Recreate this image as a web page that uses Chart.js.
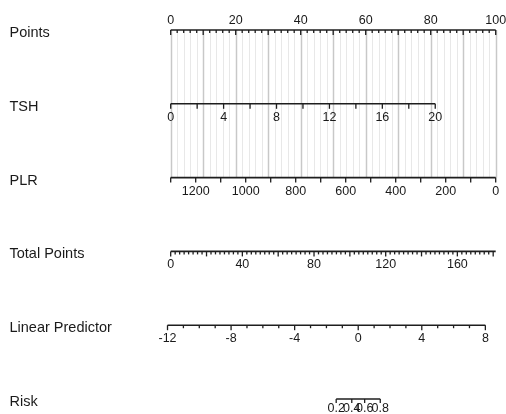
<!DOCTYPE html>
<html>
<head>
<meta charset="utf-8">
<script src="https://cdn.jsdelivr.net/npm/chart.js@4"></script>
<style>
  body { margin: 0; background: #fff; }
  canvas { display: block; }
</style>
</head>
<body>
<canvas id="nomo" width="506" height="414"></canvas>
<script>
// Row names (left column) =================================================
var rowNames = ['Points', 'TSH', 'PLR', 'Total Points', 'Linear Predictor', 'Risk'];

// Tick labels for each scale
var pointsLabels = [0, 20, 40, 60, 80, 100];
var tshLabels = [0, 4, 8, 12, 16, 20];
var plrLabels = [1200, 1000, 800, 600, 400, 200, 0];
var totalLabels = [0, 40, 80, 120, 160];
var lpLabels = [-12, -8, -4, 0, 4, 8];
var riskLabels = [0.2, 0.4, 0.6, 0.8];

// Variable ranges
var pointsRange = [0, 100];
var tshRange = [0, 20];
var plrRange = [0, 1300];
var totalRange = [0, 181.4];
var lpRange = [-12, 8];
var riskRange = [0.2, 0.8];

// Model: points given by TSH at its max, and linear predictor on the points scale
var tshMaxPoints = 81.4;
var lpAtZero = 57.7;     // points-scale position of linear predictor 0
var lpPerUnit = 4.89;    // points-scale width of 1 unit of linear predictor

// Conversions into the common "points" scale ==============================
function tshToPts(v) { return v * tshMaxPoints / tshRange[1]; }
function plrToPts(v) { return (plrRange[1] - v) / plrRange[1] * 100; }
function totalToPts(v) { return v * 100 / totalRange[1]; }
function lpToPts(v) { return lpAtZero + v * lpPerUnit; }
function riskToPts(r) { return lpToPts(Math.log(r / (1 - r))); }

function stepTicks(lo, hi, step) {
  var out = [];
  for (var v = lo; v <= hi + 1e-9; v += step) { out.push(Math.round(v * 1000) / 1000); }
  return out;
}

// Axis descriptions: which row, how to convert, where the ticks go
var axes = [
  { row: 0, conv: function(v){ return v; }, range: pointsRange, ticks: stepTicks(0, 100, 2),
    major: function(v){ return v % 10 === 0; }, labels: pointsLabels, above: true },
  { row: 1, conv: tshToPts, range: tshRange, ticks: stepTicks(0, 20, 2),
    major: function(){ return true; }, labels: tshLabels },
  { row: 2, conv: plrToPts, range: plrRange, ticks: stepTicks(0, 1300, 100),
    major: function(){ return true; }, labels: plrLabels },
  { row: 3, conv: totalToPts, range: totalRange, ticks: stepTicks(0, 180, 2.5),
    major: function(v){ return v % 20 === 0; }, labels: totalLabels },
  { row: 4, conv: lpToPts, range: lpRange, ticks: stepTicks(-12, 8, 1),
    major: function(v){ return v % 4 === 0; }, labels: lpLabels },
  { row: 5, conv: riskToPts, range: riskRange, ticks: riskLabels,
    major: function(){ return true; }, labels: riskLabels, small: true }
];

// Axis lines as line datasets
var datasets = axes.map(function(a) {
  return {
    data: [{ x: a.conv(a.range[0]), y: a.row }, { x: a.conv(a.range[1]), y: a.row }],
    showLine: true,
    borderColor: '#1e1e1e',
    borderWidth: 1.6,
    pointRadius: 0
  };
});

// Plugin: grid, ticks and labels drawn through the chart's scales
var nomogramPlugin = {
  id: 'nomogram',
  beforeDatasetsDraw: function(chart) {
    var c = chart.ctx, xs = chart.scales.x, ys = chart.scales.y;
    var yTop = ys.getPixelForValue(0), yBot = ys.getPixelForValue(2);
    c.save();
    stepTicks(0, 100, 2).forEach(function(v) {
      var px = Math.round(xs.getPixelForValue(v)) + 0.5;
      c.strokeStyle = v % 10 === 0 ? '#c8c8c8' : '#e8e8e8';
      c.lineWidth = v % 10 === 0 ? 1.5 : 1;
      c.beginPath(); c.moveTo(px, yTop); c.lineTo(px, yBot); c.stroke();
    });
    c.restore();
  },
  afterDatasetsDraw: function(chart) {
    var c = chart.ctx, xs = chart.scales.x, ys = chart.scales.y;
    c.save();
    c.fillStyle = '#1a1a1a';
    c.strokeStyle = '#1e1e1e';
    c.lineWidth = 1.3;
    axes.forEach(function(a) {
      var py = ys.getPixelForValue(a.row);
      a.ticks.forEach(function(v) {
        var px = xs.getPixelForValue(a.conv(v));
        var len = a.major(v) ? 5 : 3;
        if (a.small) len = 4;
        c.beginPath(); c.moveTo(px, py); c.lineTo(px, py + len); c.stroke();
      });
      c.font = '12.5px "Liberation Sans", Arial, sans-serif';
      c.textAlign = 'center';
      c.textBaseline = 'alphabetic';
      a.labels.forEach(function(v) {
        var px = xs.getPixelForValue(a.conv(v));
        var ty = a.above ? py - 6.5 : py + (a.small ? 13 : 17);
        c.fillText(String(v), px, ty);
      });
      // row name
      c.font = '14.5px "Liberation Sans", Arial, sans-serif';
      c.textAlign = 'left';
      c.fillText(rowNames[a.row], 9.5, py + 7);
    });
    c.restore();
  }
};

// Chart ===================================================================
var ctx = document.getElementById('nomo').getContext('2d');
var myChart = new Chart(ctx, {
  type: 'scatter',
  data: { datasets: datasets },
  options: {
    responsive: false,
    animation: false,
    layout: { padding: 0 },
    plugins: { legend: { display: false }, tooltip: { enabled: false } },
    scales: {
      x: { type: 'linear', display: false, min: -52.52, max: 103.17 },
      y: { type: 'linear', display: false, reverse: true, min: -0.4065, max: 5.203 }
    }
  },
  plugins: [nomogramPlugin]
});
</script>
</body>
</html>
